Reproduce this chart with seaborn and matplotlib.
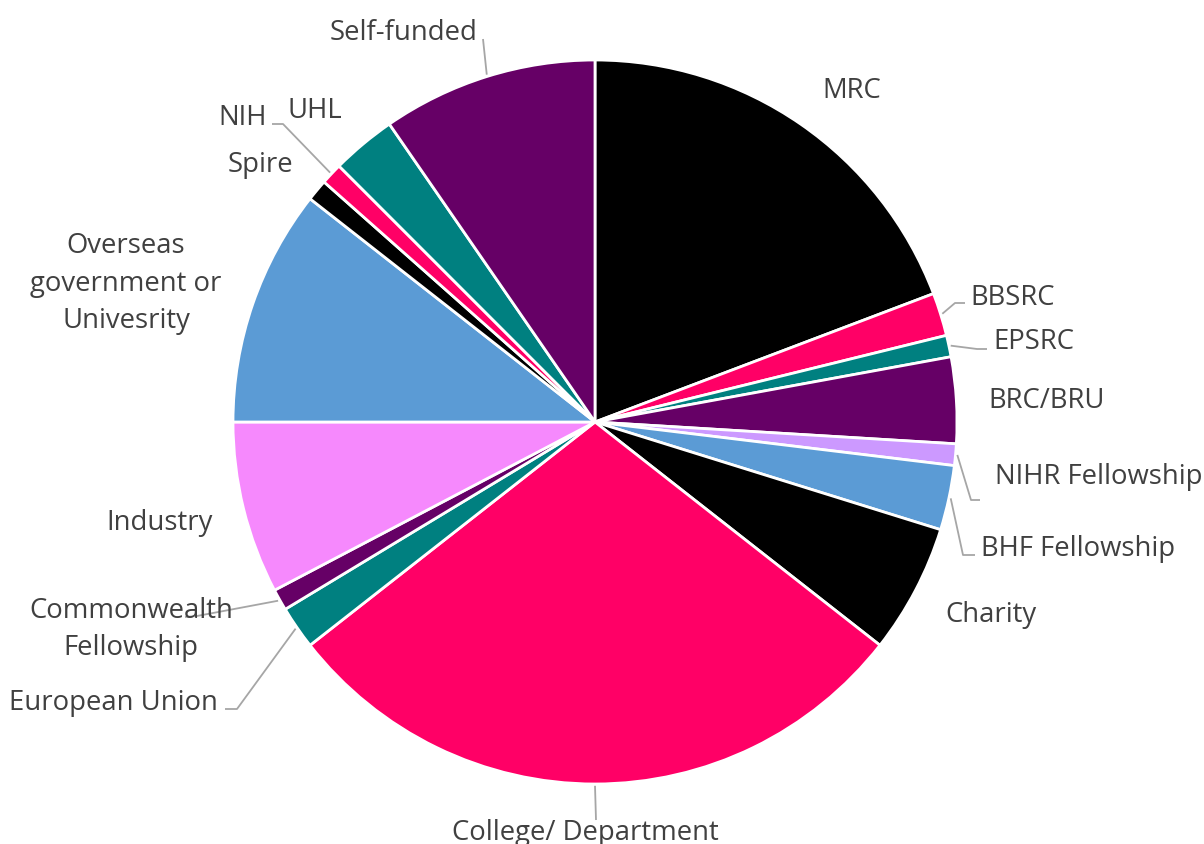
import numpy as np
import seaborn as sns
import matplotlib.pyplot as plt

# funding sources, clockwise from 12 o'clock
sources = ['MRC', 'BBSRC', 'EPSRC', 'BRC/BRU', 'NIHR Fellowship', 'BHF Fellowship',
           'Charity', 'College/ Department', 'European Union',
           'Commonwealth\nFellowship', 'Industry',
           'Overseas\ngovernment or\nUnivesrity', 'Spire', 'NIH', 'UHL', 'Self-funded']
counts = [20, 2, 1, 4, 1, 3, 6, 30, 2, 1, 8, 11, 1, 1, 3, 10]

BLACK, PINK, TEAL, PURPLE = '#000000', '#FF0066', '#008080', '#660066'
LILAC, BLUE, ORCHID = '#CC99FF', '#5B9BD5', '#F689FD'
colors = [BLACK, PINK, TEAL, PURPLE, LILAC, BLUE, BLACK, PINK, TEAL, PURPLE,
          ORCHID, BLUE, BLACK, PINK, TEAL, PURPLE]

# label layout in pixels (x, baseline y of last line, alignment) + leader line bends
label_pos = [(852, 98, 'center'), (970, 305, 'left'), (993, 349, 'left'),
             (988, 408, 'left'), (995, 484, 'left'), (981, 556, 'left'),
             (945, 622, 'left'), (585, 840, 'center'), (218, 710, 'right'),
             (131, 655, 'center'), (160, 530, 'center'), (126, 328, 'center'),
             (260, 172, 'center'), (243, 125, 'center'), (315, 118, 'center'),
             (404, 40, 'center')]
leaders = {1: [(955, 303), (965, 303)], 2: [(977, 349), (987, 349)],
           4: [(971, 500), (980, 500)], 5: [(963, 555), (975, 555)],
           7: [(596, 820)], 8: [(237, 709), (225, 709)],
           9: [(197, 616), (185, 617)], 13: [(283, 124), (272, 124)],
           15: [(483, 39)]}

W, H = 1204, 844
CX, CY, R = 595, 422, 362


def px(x, y):
    return (x - CX) / R, (CY - y) / R


sns.set_theme(style='white')
plt.rcParams['font.family'] = ['Open Sans', 'DejaVu Sans']

fig = plt.figure(figsize=(W / 100, H / 100), dpi=100)
ax = fig.add_axes([0, 0, 1, 1])
wedges, _ = ax.pie(counts, colors=colors, startangle=90, counterclock=False,
                   wedgeprops=dict(edgecolor='white', linewidth=2))
ax.set_aspect('auto')
ax.set_xlim(px(0, 0)[0], px(W, 0)[0])
ax.set_ylim(px(0, H)[1], px(0, 0)[1])
ax.axis('off')

for i, (w, name) in enumerate(zip(wedges, sources)):
    x, y, ha = label_pos[i]
    tx, ty = px(x, y)
    ax.text(tx, ty, name, ha=ha, va='baseline', ma='center', fontsize=19.8,
            color='#404040', linespacing=1.45)
    if i in leaders:
        mid = np.deg2rad((w.theta1 + w.theta2) / 2)
        pts = [(np.cos(mid) * 1.005, np.sin(mid) * 1.005)] + [px(*p) for p in leaders[i]]
        xs, ys = zip(*pts)
        ax.plot(xs, ys, color='#A6A6A6', lw=1.3, solid_capstyle='butt')

fig.savefig('out.png', dpi=100)
